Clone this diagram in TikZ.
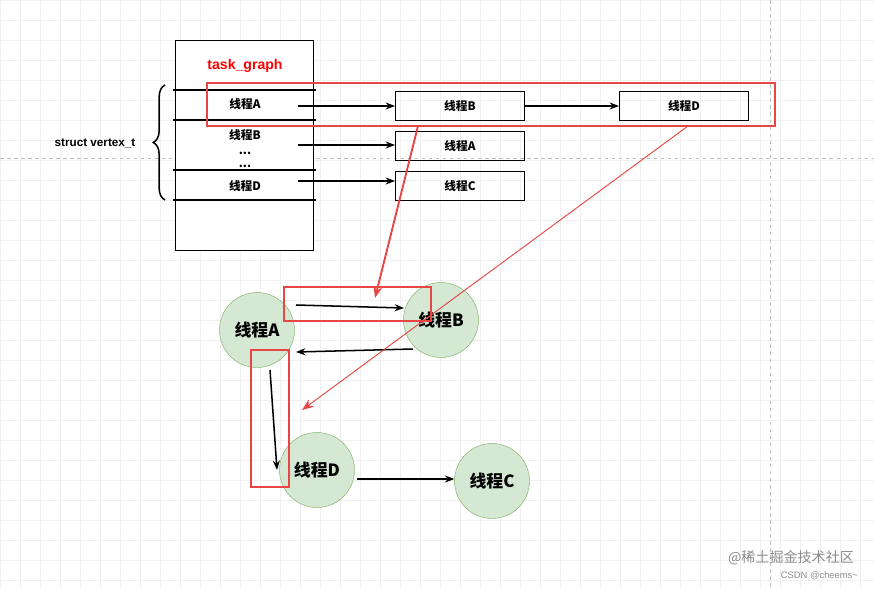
\documentclass[tikz,border=0pt]{standalone}
\usepackage{fontspec}
\setmainfont{Liberation Sans}
\newfontfamily\cjk{Noto Sans CJK SC}
\usetikzlibrary{positioning, arrows.meta, decorations.pathreplacing}
\definecolor{nodegreen}{HTML}{D5E8D4}
\definecolor{nodeline}{HTML}{82B366}
\definecolor{hlred}{HTML}{E84545}
\begin{document}
\begin{tikzpicture}[x=0.03cm, y=-0.03cm, every node/.style={font=\cjk\bfseries\normalsize},
    listbox/.style={rectangle, draw, thick, minimum width=3.87cm, minimum height=0.87cm, inner sep=0pt},
    thread/.style={circle, draw=nodeline, fill=nodegreen, minimum size=2.25cm, font=\cjk\bfseries\Large},
    hl/.style={draw=hlred, line width=2.4pt},
    link/.style={-{Stealth[length=8pt]}, line width=1.3pt}]
    \useasboundingbox (0,0) rectangle (874,588);
    % background grid
    \draw[black!6, step=0.6cm] (0,0) grid (874,588);
    \draw[black!25, dashed] (0,158) -- (874,158);
    \draw[black!25, dashed] (770,0) -- (770,588);
    % task graph table
    \draw[fill=white] (175,40) rectangle (313,250);
    \node[text=red, font=\bfseries\large] (title) at (245,66) {task\_graph};
    \foreach \y in {90,120,170,200} \draw[line width=1.5pt] (173,\y) -- (316,\y);
    \node (sa) at (245,104) {线程A};
    \node (sb) at (245,135) {线程B};
    \node (sdots) at (245,153) {...};
    \node (sdots2) at (245,166) {...};
    \node (sd) at (245,186) {线程D};
    \draw[decorate, decoration={brace, amplitude=10pt}, line width=1.3pt] (165,200) -- (165,85);
    \node[font=\bfseries\normalsize] (vt) at (95,143) {struct vertex\_t};
    % adjacency lists
    \node[listbox] (lb) at (460,106) {线程B};
    \node[listbox] (ld) at (684,106) {线程D};
    \node[listbox] (la) at (460,146) {线程A};
    \node[listbox] (lc) at (460,186) {线程C};
    \coordinate (ea) at (298,106);
    \coordinate (eb) at (298,145);
    \coordinate (ed) at (298,181);
    \draw[link] (ea) -- (lb.west);
    \draw[link] (lb) -- (ld);
    \draw[link] (eb) -- (la.west |- eb);
    \draw[link] (ed) -- (lc.west |- ed);
    % graph
    \node[thread] (ga) at (257,330) {线程A};
    \node[thread] (gb) at (441,320) {线程B};
    \node[thread] (gd) at (317,470) {线程D};
    \node[thread] (gc) at (492,481) {线程C};
    \coordinate (ab1) at (296,305);
    \coordinate (ab2) at (404,308);
    \coordinate (ba1) at (413,349);
    \coordinate (ba2) at (296,352);
    \coordinate (ad1) at (270,370);
    \coordinate (ad2) at (277,470);
    \coordinate (dc1) at (357,479);
    \draw[link] (ab1) -- (ab2);
    \draw[link] (ba1) -- (ba2);
    \draw[link] (ad1) -- (ad2);
    \draw[link] (dc1) -- (gc.west |- dc1);
    % highlights
    \draw[hl] (207,83) rectangle (775,126);
    \draw[hl] (284,287) rectangle (431,321);
    \draw[hl] (251,350) rectangle (289,487);
    \coordinate (r1s) at (418,126);
    \coordinate (r1e) at (375,298);
    \coordinate (r2s) at (688,126);
    \coordinate (r2e) at (302,410);
    \draw[hlred, line width=1.6pt, -{Stealth[length=10pt]}] (r1s) -- (r1e);
    \draw[hlred, line width=0.8pt, -{Stealth[length=10pt]}] (r2s) -- (r2e);
    % watermark
    \node[text=black!45, font=\cjk\large, anchor=east] (wm) at (858,558) {@稀土掘金技术社区};
    \node[text=black!45, font=\footnotesize, anchor=east] (wm2) at (862,576) {CSDN @cheems\textasciitilde};
\end{tikzpicture}
\end{document}
